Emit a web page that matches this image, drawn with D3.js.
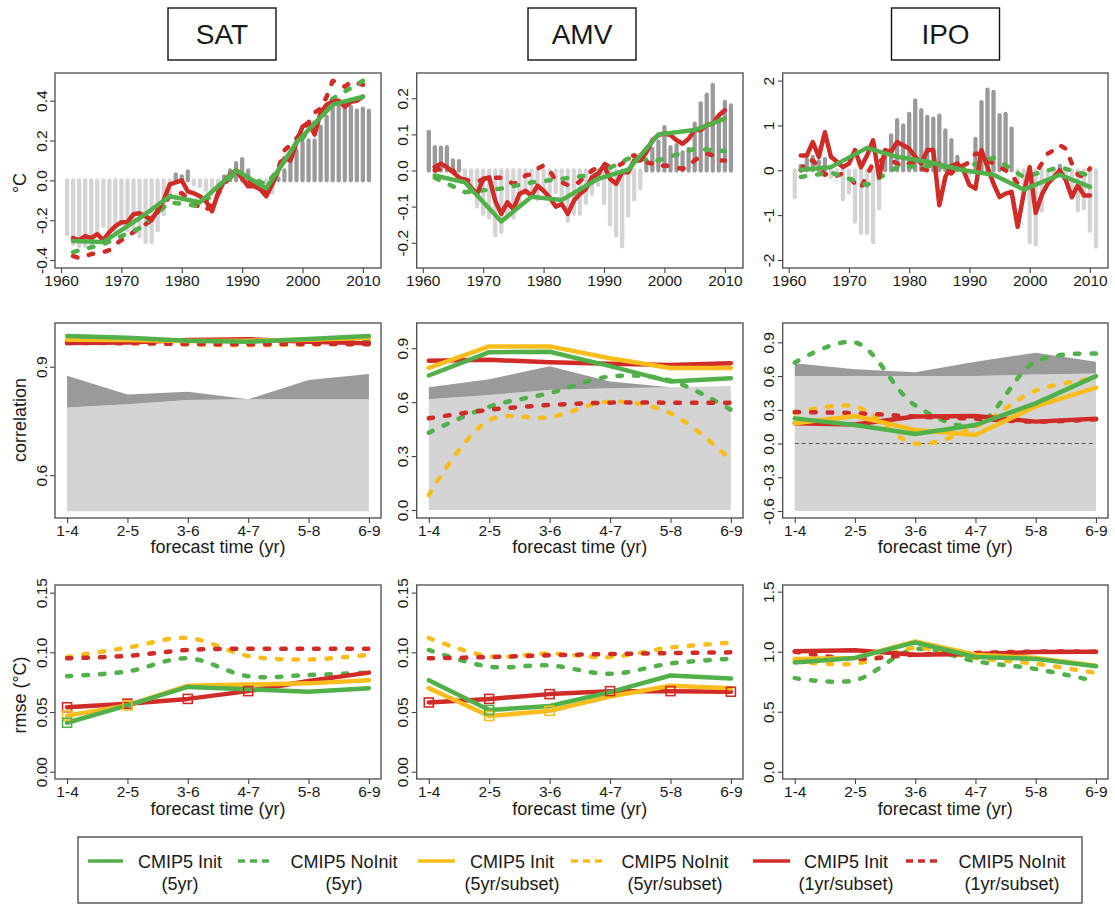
<!DOCTYPE html>
<html>
<head>
<meta charset="utf-8">
<script src="https://cdn.jsdelivr.net/npm/d3@7"></script>
<style>
  body { margin: 0; background: #fff; }
  svg { display: block; }
  text { font-family: "Liberation Sans", Arial, Helvetica, sans-serif; fill: #1a1a1a; }
</style>
</head>
<body>
<svg id="fig" width="1115" height="904"></svg>
<script>
// ---------------- data ----------------
const variables = ["SAT", "AMV", "IPO"];
const obsYears = d3.range(1961, 2012);          // observed annual values
const hindYears = d3.range(1962, 2011);         // annual (1yr) hindcasts
const fiveYears = [1962, 1967, 1973, 1978, 1983, 1989, 1994, 1999, 2005, 2010]; // 5yr start-date hindcasts
const leads = ["1-4", "2-5", "3-6", "4-7", "5-8", "6-9"];
const yearTicks = [1960, 1970, 1980, 1990, 2000, 2010];

// observations (bars)
const satObs = [-0.27,-0.32,-0.33,-0.33,-0.32,-0.27,-0.23,-0.24,-0.25,-0.22,
  -0.25,-0.26,-0.28,-0.31,-0.31,-0.25,-0.17,-0.08,0.03,0.02,
  0.045,-0.02,-0.03,-0.05,-0.07,-0.04,0.02,0.05,0.087,0.107,
  0.05,-0.01,-0.03,-0.04,-0.06,0.01,0.05,0.12,0.15,0.19,
  0.20,0.20,0.27,0.32,0.37,0.395,0.385,0.37,0.35,0.36,0.35];
const amvObs = [0.107,0.065,0.063,0.065,0.028,0.026,-0.03,-0.06,-0.10,-0.12,
  -0.13,-0.18,-0.17,-0.13,-0.13,-0.09,-0.065,-0.065,-0.08,-0.06,
  -0.06,-0.06,-0.09,-0.14,-0.12,-0.12,-0.09,-0.065,-0.04,-0.09,
  -0.15,-0.18,-0.21,-0.125,-0.08,-0.05,0.03,0.06,0.08,0.12,
  0.065,0.07,0.05,0.06,0.13,0.186,0.21,0.237,0.15,0.19,0.18];
const ipoObs = [-0.6,0.1,0.25,0.3,0.2,0.25,-0.15,-0.1,-0.65,-0.5,
  -1.15,-1.4,-1.4,-1.6,-0.85,0.35,0.78,1.12,1.0,1.26,
  1.56,1.34,1.19,1.15,1.22,0.89,0.67,0.3,0.1,-0.1,
  0.7,1.52,1.8,1.75,1.23,1.26,0.93,-0.2,-0.3,-1.6,
  -1.65,-0.9,-0.3,-0.2,0.1,-0.2,-0.5,-0.9,-0.85,-1.35,-1.7];

// annual hindcasts, CMIP5 Init / NoInit (1yr/subset)
const satInit1 = [-0.29,-0.30,-0.28,-0.29,-0.27,-0.30,-0.26,-0.23,
  -0.21,-0.21,-0.17,-0.165,-0.18,-0.20,-0.15,-0.10,-0.02,-0.01,
  0.0,-0.055,-0.065,-0.08,-0.105,-0.155,-0.065,-0.005,0.03,0.05,
  0.01,-0.03,-0.03,-0.045,-0.08,-0.02,0.05,0.11,0.10,0.19,
  0.27,0.29,0.23,0.34,0.38,0.395,0.40,0.37,0.395,0.40,0.42];
const satNoInit1 = [-0.38,-0.39,-0.38,-0.37,-0.365,-0.36,-0.35,-0.32,
  -0.30,-0.28,-0.26,-0.24,-0.22,-0.20,-0.16,-0.12,-0.08,-0.06,
  -0.065,-0.09,-0.11,-0.14,-0.15,-0.12,-0.07,-0.02,0.02,0.05,
  0.03,0.0,-0.02,-0.03,-0.06,0.0,0.06,0.15,0.18,0.21,
  0.25,0.29,0.34,0.36,0.42,0.50,0.49,0.47,0.495,0.49,0.48];
const amvInit1 = [0.01,0.019,0.009,-0.005,-0.019,-0.028,-0.047,-0.065,
  -0.023,-0.019,-0.084,-0.12,-0.088,-0.107,-0.065,-0.056,-0.07,-0.042,
  -0.056,-0.074,-0.10,-0.093,-0.12,-0.084,-0.065,-0.051,-0.019,-0.009,
  0.014,-0.023,-0.037,-0.005,-0.005,0.028,0.028,0.05,0.084,0.098,
  0.102,0.098,0.084,0.074,0.088,0.112,0.112,0.126,0.13,0.153,0.167];
const amvNoInit1 = [0.0,0.005,0.0,0.0,-0.02,-0.025,-0.03,-0.03,
  -0.025,-0.02,-0.02,-0.02,-0.028,-0.037,-0.03,-0.014,-0.01,0.005,
  0.014,0.0,-0.028,-0.033,-0.04,-0.042,-0.03,-0.014,0.0,0.009,
  0.019,0.01,0.01,0.019,0.037,0.042,0.028,0.023,0.019,0.011,
  0.014,0.012,0.007,0.005,0.011,0.028,0.039,0.047,0.042,0.028,0.028];
const ipoInit1 = [0.33,0.33,0.63,0.3,0.85,0.3,0.19,0.07,
  0.15,0.45,0.07,0.33,0.67,-0.15,0.45,0.41,0.63,0.56,
  0.48,0.3,0.15,0.45,0.45,-0.78,-0.15,0.1,0.15,0.0,
  -0.33,-0.41,0.45,0.07,-0.3,-0.6,-0.52,-0.48,-1.26,-0.52,
  0.07,-0.95,-0.55,-0.3,-0.15,0.0,-0.22,-0.6,-0.33,-0.56,-0.56];
const ipoNoInit1 = [0.0,0.22,0.22,0.07,-0.1,-0.05,-0.12,-0.07,
  -0.15,-0.3,-0.4,-0.1,0.15,0.18,0.3,0.22,0.15,0.07,
  0.15,0.18,0.04,0.0,0.07,0.15,0.0,-0.07,0.07,0.11,
  0.18,0.37,0.37,0.22,0.15,0.07,0.0,-0.1,-0.3,-0.22,
  -0.15,-0.07,0.15,0.37,0.45,0.56,0.48,0.15,-0.1,-0.15,0.04];

// 5yr start-date hindcasts, CMIP5 Init / NoInit (5yr)
const satInit5   = [-0.305,-0.31,-0.19,-0.08,-0.11,0.05,-0.04,0.19,0.38,0.42];
const satNoInit5 = [-0.36,-0.32,-0.24,-0.11,-0.13,0.04,-0.02,0.17,0.41,0.50];
const amvInit5   = [-0.014,-0.033,-0.141,-0.073,-0.082,-0.023,0.002,0.10,0.112,0.144];
const amvNoInit5 = [-0.02,-0.06,-0.05,-0.033,-0.023,-0.01,0.033,0.028,0.06,0.054];
const ipoInit5   = [0.01,0.07,0.5,0.3,0.19,0.0,-0.1,-0.43,-0.1,-0.37];
const ipoNoInit5 = [-0.15,-0.05,-0.33,0.07,0.1,0.05,0.28,-0.15,0.07,-0.12];

// correlation skill by forecast time
const satCorrInit5    = [0.985,0.980,0.972,0.969,0.977,0.985];
const satCorrNoInit5  = [0.975,0.970,0.968,0.966,0.968,0.972];
const satCorrInit5s   = [0.975,0.974,0.971,0.972,0.975,0.980];
const satCorrNoInit5s = [0.970,0.968,0.962,0.960,0.962,0.965];
const satCorrInit1s   = [0.966,0.967,0.974,0.976,0.969,0.965];
const satCorrNoInit1s = [0.966,0.965,0.963,0.962,0.963,0.962];
const satCorrSigLow   = [0.787,0.796,0.808,0.810,0.810,0.810];
const satCorrSigHigh  = [0.875,0.823,0.831,0.810,0.863,0.880];

const amvCorrInit5    = [0.748,0.878,0.880,0.800,0.714,0.733];
const amvCorrNoInit5  = [0.430,0.575,0.650,0.742,0.720,0.557];
const amvCorrInit5s   = [0.790,0.910,0.910,0.844,0.790,0.790];
const amvCorrNoInit5s = [0.083,0.500,0.516,0.603,0.538,0.278];
const amvCorrInit1s   = [0.830,0.835,0.822,0.813,0.807,0.816];
const amvCorrNoInit1s = [0.510,0.557,0.584,0.597,0.597,0.597];
const amvCorrSigLow   = [0.616,0.640,0.668,0.677,0.683,0.690];
const amvCorrSigHigh  = [0.683,0.727,0.800,0.714,0.683,0.690];

const ipoCorrInit5    = [0.224,0.165,0.085,0.165,0.357,0.600];
const ipoCorrNoInit5  = [0.720,0.900,0.340,0.165,0.730,0.800];
const ipoCorrInit5s   = [0.180,0.245,0.120,0.076,0.330,0.497];
const ipoCorrNoInit5s = [0.270,0.330,0.000,0.150,0.470,0.580];
const ipoCorrInit1s   = [0.180,0.170,0.240,0.245,0.195,0.220];
const ipoCorrNoInit1s = [0.280,0.270,0.240,0.220,0.195,0.215];
const ipoCorrSigLow   = [0.600,0.600,0.600,0.600,0.615,0.624];
const ipoCorrSigHigh  = [0.713,0.660,0.633,0.728,0.808,0.728];

const corrFloor = [0.5, 0.0, -0.6];

// rmse by forecast time
const satRmseInit5    = [0.041,0.0555,0.071,0.069,0.067,0.070];
const satRmseNoInit5  = [0.080,0.084,0.095,0.080,0.081,0.083];
const satRmseInit5s   = [0.047,0.0555,0.072,0.073,0.074,0.0767];
const satRmseNoInit5s = [0.096,0.104,0.112,0.097,0.094,0.098];
const satRmseInit1s   = [0.054,0.057,0.061,0.0675,0.076,0.083];
const satRmseNoInit1s = [0.095,0.097,0.102,0.103,0.103,0.103];

const amvRmseInit5    = [0.0767,0.0517,0.055,0.0667,0.0806,0.078];
const amvRmseNoInit5  = [0.102,0.088,0.089,0.082,0.0906,0.0947];
const amvRmseInit5s   = [0.070,0.0467,0.051,0.063,0.072,0.070];
const amvRmseNoInit5s = [0.112,0.0967,0.099,0.096,0.104,0.108];
const amvRmseInit1s   = [0.058,0.061,0.065,0.0675,0.0675,0.067];
const amvRmseNoInit1s = [0.095,0.096,0.0975,0.0986,0.0994,0.100];

const ipoRmseInit5    = [0.910,0.948,1.077,0.956,0.940,0.878];
const ipoRmseNoInit5  = [0.780,0.762,1.022,0.920,0.856,0.754];
const ipoRmseInit5s   = [0.940,0.948,1.086,0.975,0.948,0.884];
const ipoRmseNoInit5s = [0.920,0.900,1.030,0.948,0.900,0.823];
const ipoRmseInit1s   = [1.003,1.011,0.975,0.980,0.997,1.000];
const ipoRmseNoInit1s = [1.000,0.940,0.975,0.990,1.000,1.000];

// lead times where Init rmse is significantly lower (open squares)
const satRmseSigInit5  = ["1-4"];
const satRmseSigInit5s = ["1-4", "2-5"];
const satRmseSigInit1s = ["1-4", "2-5", "3-6", "4-7"];
const amvRmseSigInit5  = ["2-5"];
const amvRmseSigInit5s = ["2-5", "3-6"];
const amvRmseSigInit1s = ["1-4", "2-5", "3-6", "4-7", "5-8", "6-9"];
const ipoRmseSigInit5  = [];
const ipoRmseSigInit5s = [];
const ipoRmseSigInit1s = [];

const legendTop = ["CMIP5 Init", "CMIP5 NoInit", "CMIP5 Init", "CMIP5 NoInit", "CMIP5 Init", "CMIP5 NoInit"];
const legendBottom = ["(5yr)", "(5yr)", "(5yr/subset)", "(5yr/subset)", "(1yr/subset)", "(1yr/subset)"];

// ---------------- styling / layout ----------------
const GREEN = "#52b04a", YELLOW = "#f8bd1c", RED = "#cf2b27";
const DARK_GRAY = "#9a9a9a", LIGHT_GRAY = "#d4d4d4";
const LW = 4.5, DASH = "4.5,12";

const cols = [{x0: 55, x1: 381}, {x0: 416.7, x1: 743}, {x0: 782.7, x1: 1108}];
const rows = [{y0: 73, y1: 268}, {y0: 323, y1: 518}, {y0: 585, y1: 779}];

const topDomains = [[-0.44, 0.539], [-0.27, 0.27], [-2.18, 2.17]];
const midDomains = [[0.4816, 1.021], [-0.0445, 1.04], [-0.662, 1.072]];
const botDomains = [[-0.0061, 0.1564], [-0.0061, 0.1564], [-0.0605, 1.5555]];

const topTicks = [[-0.4,-0.2,0,0.2,0.4], [-0.2,-0.1,0,0.1,0.2], [-2,-1,0,1,2]];
const midTicks = [[0.6,0.9], [0,0.3,0.6,0.9], [-0.6,-0.3,0,0.3,0.6,0.9]];
const botTicks = [[0,0.05,0.1,0.15], [0,0.05,0.1,0.15], [0,0.5,1,1.5]];
const topFmt = [v => v.toFixed(1), v => v.toFixed(1), v => v.toFixed(0)];
const midFmt = [v => v.toFixed(1), v => v.toFixed(1), v => v.toFixed(1)];
const botFmt = [v => v.toFixed(2), v => v.toFixed(2), v => v.toFixed(1)];

const svg = d3.select("#fig");

// ---------------- helpers ----------------
function drawYAxis(g, y, ticks, fmt, x0) {
  const ax = g.append("g").attr("transform", `translate(${x0},0)`)
    .call(d3.axisLeft(y).tickValues(ticks).tickFormat(fmt).tickSize(5).tickSizeOuter(0));
  ax.select(".domain").remove();
  ax.selectAll("line").attr("stroke", "#444").attr("stroke-width", 1.1);
  ax.selectAll("text")
    .attr("x", 0).attr("dy", "0.36em")
    .attr("transform", "translate(-14,0) rotate(-90)")
    .style("text-anchor", "middle")
    .style("font-size", "15.5px").attr("fill", "#1a1a1a");
}
function drawXAxis(g, x, ticks, fmt, y1) {
  const ax = g.append("g").attr("transform", `translate(0,${y1})`)
    .call(d3.axisBottom(x).tickValues(ticks).tickFormat(fmt).tickSize(5).tickPadding(2).tickSizeOuter(0));
  ax.select(".domain").remove();
  ax.selectAll("line").attr("stroke", "#444").attr("stroke-width", 1.1);
  ax.selectAll("text").style("font-size", "15.5px").attr("fill", "#1a1a1a");
}
function frame(g, c, r) {
  g.append("rect").attr("x", c.x0).attr("y", r.y0)
    .attr("width", c.x1 - c.x0).attr("height", r.y1 - r.y0)
    .attr("fill", "none").attr("stroke", "#4a4a4a").attr("stroke-width", 1.3);
}
function path(g, pts, color, dashed, curve) {
  g.append("path").datum(pts)
    .attr("d", d3.line().x(d => d[0]).y(d => d[1]).curve(curve || d3.curveLinear))
    .attr("fill", "none").attr("stroke", color).attr("stroke-width", LW)
    .attr("stroke-linecap", "round").attr("stroke-linejoin", "round")
    .attr("stroke-dasharray", dashed ? DASH : null);
}

// ---------------- headers ----------------
variables.forEach((v, i) => {
  const cx = [222, 582, 945.5][i];
  svg.append("rect").attr("x", cx - 54).attr("y", 8).attr("width", 108).attr("height", 52)
    .attr("fill", "#fff").attr("stroke", "#111").attr("stroke-width", 1.4);
  svg.append("text").attr("x", cx).attr("y", 44).attr("text-anchor", "middle")
    .style("font-size", "28px").text(v);
});

// ---------------- row 1: time series ----------------
const obsSets = [satObs, amvObs, ipoObs];
const init1Sets = [satInit1, amvInit1, ipoInit1];
const noInit1Sets = [satNoInit1, amvNoInit1, ipoNoInit1];
const init5Sets = [satInit5, amvInit5, ipoInit5];
const noInit5Sets = [satNoInit5, amvNoInit5, ipoNoInit5];

variables.forEach((v, i) => {
  const c = cols[i], r = rows[0];
  const g = svg.append("g");
  const x = d3.scaleLinear().domain([1959, 2013]).range([c.x0, c.x1]);
  const y = d3.scaleLinear().domain(topDomains[i]).range([r.y1, r.y0]);

  g.selectAll("line.bar").data(obsYears.map((yr, k) => [yr, obsSets[i][k]])).enter()
    .append("line").attr("class", "bar")
    .attr("x1", d => x(d[0])).attr("x2", d => x(d[0]))
    .attr("y1", y(0)).attr("y2", d => y(d[1]))
    .attr("stroke", d => d[1] >= 0 ? DARK_GRAY : LIGHT_GRAY)
    .attr("stroke-width", 4.3).attr("stroke-linecap", "round");

  path(g, hindYears.map((yr, k) => [x(yr), y(noInit1Sets[i][k])]), RED, true);
  path(g, fiveYears.map((yr, k) => [x(yr), y(noInit5Sets[i][k])]), GREEN, true);
  path(g, hindYears.map((yr, k) => [x(yr), y(init1Sets[i][k])]), RED, false);
  path(g, fiveYears.map((yr, k) => [x(yr), y(init5Sets[i][k])]), GREEN, false);

  drawYAxis(g, y, topTicks[i], topFmt[i], c.x0);
  drawXAxis(g, x, yearTicks, d => String(d), r.y1);
  frame(g, c, r);
});

// ---------------- row 2: correlation ----------------
const corrSets = [
  [satCorrInit5, satCorrNoInit5, satCorrInit5s, satCorrNoInit5s, satCorrInit1s, satCorrNoInit1s, satCorrSigLow, satCorrSigHigh],
  [amvCorrInit5, amvCorrNoInit5, amvCorrInit5s, amvCorrNoInit5s, amvCorrInit1s, amvCorrNoInit1s, amvCorrSigLow, amvCorrSigHigh],
  [ipoCorrInit5, ipoCorrNoInit5, ipoCorrInit5s, ipoCorrNoInit5s, ipoCorrInit1s, ipoCorrNoInit1s, ipoCorrSigLow, ipoCorrSigHigh]
];
variables.forEach((v, i) => {
  const c = cols[i], r = rows[1];
  const g = svg.append("g");
  const x = d3.scaleLinear().domain([0.8, 6.2]).range([c.x0, c.x1]);
  const y = d3.scaleLinear().domain(midDomains[i]).range([r.y1, r.y0]);
  const [i5, n5, i5s, n5s, i1s, n1s, lo, hi] = corrSets[i];
  const idx = leads.map((d, k) => k + 1);

  g.append("path").datum(idx)
    .attr("d", d3.area().x(k => x(k)).y0(y(corrFloor[i])).y1(k => y(lo[k - 1])))
    .attr("fill", LIGHT_GRAY);
  g.append("path").datum(idx)
    .attr("d", d3.area().x(k => x(k)).y0(k => y(lo[k - 1])).y1(k => y(hi[k - 1])))
    .attr("fill", DARK_GRAY);
  if (corrFloor[i] < 0) {
    g.append("line").attr("x1", x(1)).attr("x2", x(6)).attr("y1", y(0)).attr("y2", y(0))
      .attr("stroke", "#555").attr("stroke-width", 1.1).attr("stroke-dasharray", "4,3");
  }
  const pts = arr => idx.map(k => [x(k), y(arr[k - 1])]);
  path(g, pts(n5), GREEN, true, d3.curveCatmullRom);
  path(g, pts(n5s), YELLOW, true, d3.curveCatmullRom);
  path(g, pts(n1s), RED, true, d3.curveCatmullRom);
  path(g, pts(i1s), RED, false);
  path(g, pts(i5s), YELLOW, false);
  path(g, pts(i5), GREEN, false);

  drawYAxis(g, y, midTicks[i], midFmt[i], c.x0);
  drawXAxis(g, x, idx, k => leads[k - 1], r.y1);
  g.append("text").attr("x", (c.x0 + c.x1) / 2).attr("y", r.y1 + 35)
    .attr("text-anchor", "middle").style("font-size", "18px").text("forecast time (yr)");
  frame(g, c, r);
});

// ---------------- row 3: rmse ----------------
const rmseSets = [
  [satRmseInit5, satRmseNoInit5, satRmseInit5s, satRmseNoInit5s, satRmseInit1s, satRmseNoInit1s],
  [amvRmseInit5, amvRmseNoInit5, amvRmseInit5s, amvRmseNoInit5s, amvRmseInit1s, amvRmseNoInit1s],
  [ipoRmseInit5, ipoRmseNoInit5, ipoRmseInit5s, ipoRmseNoInit5s, ipoRmseInit1s, ipoRmseNoInit1s]
];
const sigSets = [
  [satRmseSigInit5, satRmseSigInit5s, satRmseSigInit1s],
  [amvRmseSigInit5, amvRmseSigInit5s, amvRmseSigInit1s],
  [ipoRmseSigInit5, ipoRmseSigInit5s, ipoRmseSigInit1s]
];
variables.forEach((v, i) => {
  const c = cols[i], r = rows[2];
  const g = svg.append("g");
  const x = d3.scaleLinear().domain([0.8, 6.2]).range([c.x0, c.x1]);
  const y = d3.scaleLinear().domain(botDomains[i]).range([r.y1, r.y0]);
  const [i5, n5, i5s, n5s, i1s, n1s] = rmseSets[i];
  const idx = leads.map((d, k) => k + 1);
  const pts = arr => idx.map(k => [x(k), y(arr[k - 1])]);

  path(g, pts(n5), GREEN, true, d3.curveCatmullRom);
  path(g, pts(n5s), YELLOW, true, d3.curveCatmullRom);
  path(g, pts(n1s), RED, true, d3.curveCatmullRom);
  path(g, pts(i1s), RED, false);
  path(g, pts(i5s), YELLOW, false);
  path(g, pts(i5), GREEN, false);

  // open squares
  const marks = [[sigSets[i][2], i1s, RED], [sigSets[i][1], i5s, YELLOW], [sigSets[i][0], i5, GREEN]];
  marks.forEach(([labs, arr, col]) => {
    labs.forEach(lab => {
      const k = leads.indexOf(lab) + 1;
      g.append("rect").attr("x", x(k) - 4.5).attr("y", y(arr[k - 1]) - 4.5)
        .attr("width", 9).attr("height", 9)
        .attr("fill", "none").attr("stroke", col).attr("stroke-width", 1.6);
    });
  });

  drawYAxis(g, y, botTicks[i], botFmt[i], c.x0);
  drawXAxis(g, x, idx, k => leads[k - 1], r.y1);
  g.append("text").attr("x", (c.x0 + c.x1) / 2).attr("y", r.y1 + 36)
    .attr("text-anchor", "middle").style("font-size", "18px").text("forecast time (yr)");
  frame(g, c, r);
});

// ---------------- y titles ----------------
[["°C", 183], ["correlation", 420], ["rmse (°C)", 695]].forEach(([t, cy]) => {
  svg.append("text").attr("transform", `translate(20,${cy}) rotate(-90)`)
    .attr("dy", "0.35em").attr("text-anchor", "middle")
    .style("font-size", "18px").text(t);
});

// ---------------- legend ----------------
const legColors = [GREEN, GREEN, YELLOW, YELLOW, RED, RED];
const legDashed = [false, true, false, true, false, true];
const legLineX = [[88, 123], [238, 269], [418, 455], [571, 602], [753, 790], [906, 937]];
const legTextX = [180, 344, 512, 675, 846, 1012];
const leg = svg.append("g");
leg.append("rect").attr("x", 78).attr("y", 837).attr("width", 1004).attr("height", 66)
  .attr("fill", "#fff").attr("stroke", "#333").attr("stroke-width", 1.2);
legendTop.forEach((t, k) => {
  leg.append("line").attr("x1", legLineX[k][0]).attr("x2", legLineX[k][1])
    .attr("y1", 861).attr("y2", 861)
    .attr("stroke", legColors[k]).attr("stroke-width", 3.5)
    .attr("stroke-dasharray", legDashed[k] ? "7,5" : null);
  leg.append("text").attr("x", legTextX[k]).attr("y", 867.5).attr("text-anchor", "middle")
    .style("font-size", "18px").text(t);
  leg.append("text").attr("x", legTextX[k]).attr("y", 890).attr("text-anchor", "middle")
    .style("font-size", "18px").text(legendBottom[k]);
});
</script>
</body>
</html>
